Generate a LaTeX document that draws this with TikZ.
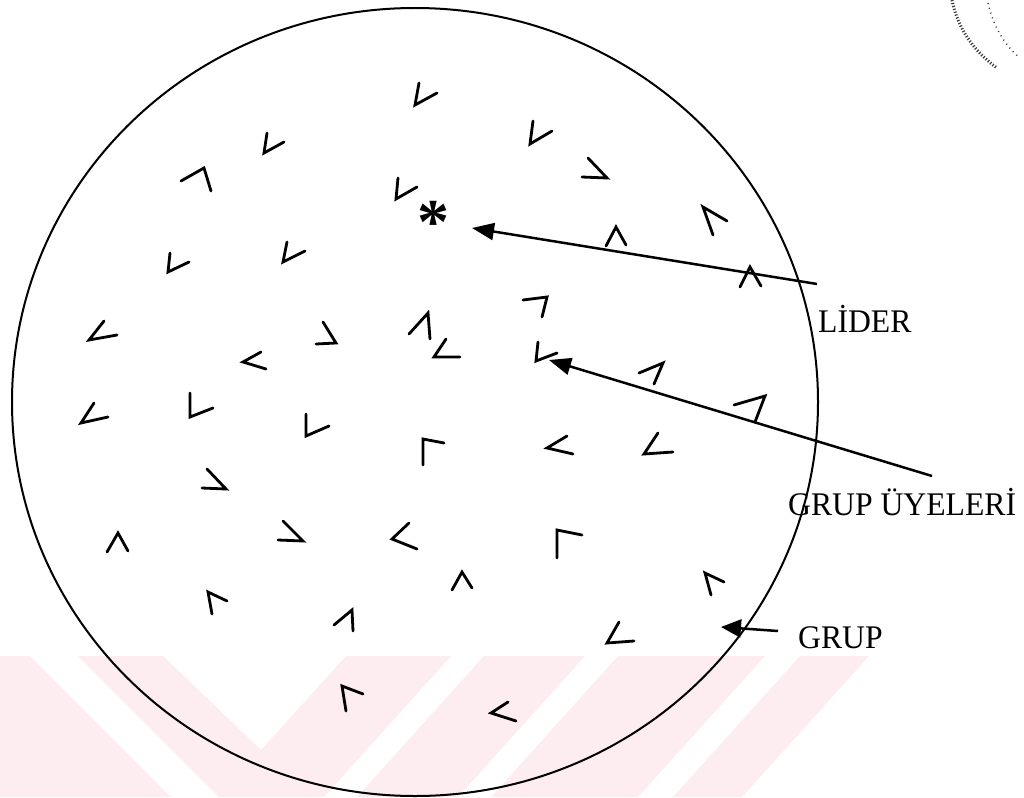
\documentclass[tikz,border=0pt]{standalone}
\usepackage{fontspec}
\setmainfont{Liberation Serif}
\usetikzlibrary{arrows.meta}
\definecolor{wm}{RGB}{253,236,240}
\definecolor{stampgray}{RGB}{60,60,60}
\begin{document}
\begin{tikzpicture}[x=1pt,y=-1pt,
  chev/.style={line width=2.8pt,line cap=round,line join=miter},
  ring/.style={line width=2pt},
  conn/.style={line width=2.5pt,-{Triangle[length=22pt,width=17pt]}},
  lbl/.style={font=\fontsize{33}{33}\selectfont,inner sep=0pt,anchor=base west,xscale=0.96},
  wmfill/.style={fill=wm,draw=none}]
\useasboundingbox (0,0) rectangle (1024,797);
% watermark
\fill[wmfill] (0,656) -- (30,656) -- (171,797) -- (0,797) -- cycle;
\fill[wmfill] (78,656) -- (163,656) -- (261,750) -- (346,656) -- (451,656) -- (324,797) -- (219,797) -- cycle;
\fill[wmfill] (484,656) -- (585,656) -- (458,797) -- (357,797) -- cycle;
\fill[wmfill] (618,656) -- (765,656) -- (638,797) -- (491,797) -- cycle;
\fill[wmfill] (800,656) -- (869,656) -- (742,797) -- (673,797) -- cycle;
% stamp fragment
\draw[stampgray,line width=3pt,dash pattern=on 1.2pt off 1.8pt] (952,0) .. controls (958,30) and (975,52) .. (997,68);
\draw[stampgray,line width=1.5pt,dash pattern=on 1pt off 4pt] (988,3) .. controls (993,25) and (1004,45) .. (1020,58);
% group circle
\draw[ring] (415,402) ellipse [x radius=403, y radius=394];
% group members
\draw[chev] (419,83) -- (415,105) -- (437,93);
\draw[chev] (267,133) -- (264,153) -- (284,142);
\draw[chev] (181,181) -- (204,168) -- (211,191);
\draw[chev] (398,178) -- (396,199) -- (417,187);
\draw[chev] (170,253) -- (168,272) -- (189,262);
\draw[chev] (287,242) -- (283,262) -- (305,251);
\draw[chev] (104,321) -- (89,340) -- (117,335);
\draw[chev] (261,352) -- (243,362) -- (266,369);
\draw[chev] (323,322) -- (336,343) -- (316,344);
\draw[chev] (409,334) -- (428,313) -- (430,339);
\draw[chev] (533,121) -- (530,144) -- (552,131);
\draw[chev] (588,158) -- (607,178) -- (582,177);
\draw[chev] (713,235) -- (703,207) -- (727,221);
\draw[chev] (606,246) -- (616,227) -- (626,245);
\draw[chev] (740,287) -- (750,267) -- (761,286);
\draw[chev] (523,300) -- (547,297) -- (542,317);
\draw[chev] (446,339) -- (434,357) -- (460,357);
\draw[chev] (538,342) -- (536,361) -- (557,353);
\draw[chev] (639,373) -- (663,363) -- (654,384);
\draw[chev] (734,405) -- (765,396) -- (755,422);
\draw[chev] (94,403) -- (81,423) -- (108,417);
\draw[chev] (190,393) -- (190,417) -- (213,408);
\draw[chev] (306,414) -- (306,436) -- (329,426);
\draw[chev] (423,465) -- (423,439) -- (444,443);
\draw[chev] (207,469) -- (226,489) -- (202,488);
\draw[chev] (107,552) -- (118,533) -- (128,551);
\draw[chev] (283,521) -- (303,541) -- (278,540);
\draw[chev] (409,523) -- (392,539) -- (417,549);
\draw[chev] (212,614) -- (208,592) -- (227,601);
\draw[chev] (334,625) -- (352,610) -- (353,631);
\draw[chev] (346,711) -- (342,686) -- (363,694);
\draw[chev] (567,436) -- (547,448) -- (573,454);
\draw[chev] (658,433) -- (644,454) -- (673,452);
\draw[chev] (557,558) -- (557,530) -- (582,535);
\draw[chev] (452,590) -- (462,572) -- (472,588);
\draw[chev] (711,595) -- (705,573) -- (724,582);
\draw[chev] (619,622) -- (607,643) -- (634,641);
\draw[chev] (508,702) -- (491,713) -- (516,721);
% leader
\node[inner sep=0pt,anchor=base,font=\fontsize{64}{64}\selectfont\bfseries] (leader) at (433,243) {*};
% labels
\node[lbl] (lider) at (818,332) {LİDER};
\node[lbl] (uye) at (788,515) {GRUP ÜYELERİ};
\node[lbl] (grup) at (798,648) {GRUP};
% connectors
\coordinate (liderEnd) at (817,284);
\coordinate (liderTip) at (472,228);
\coordinate (uyeEnd) at (932,476);
\coordinate (uyeTip) at (549,360);
\coordinate (grupEnd) at (778,631);
\coordinate (grupTip) at (721,627);
\draw[conn] (liderEnd) -- (liderTip);
\draw[conn] (uyeEnd) -- (uyeTip);
\draw[conn,-{Triangle[length=20pt,width=18pt]}] (grupEnd) -- (grupTip);
\end{tikzpicture}
\end{document}
